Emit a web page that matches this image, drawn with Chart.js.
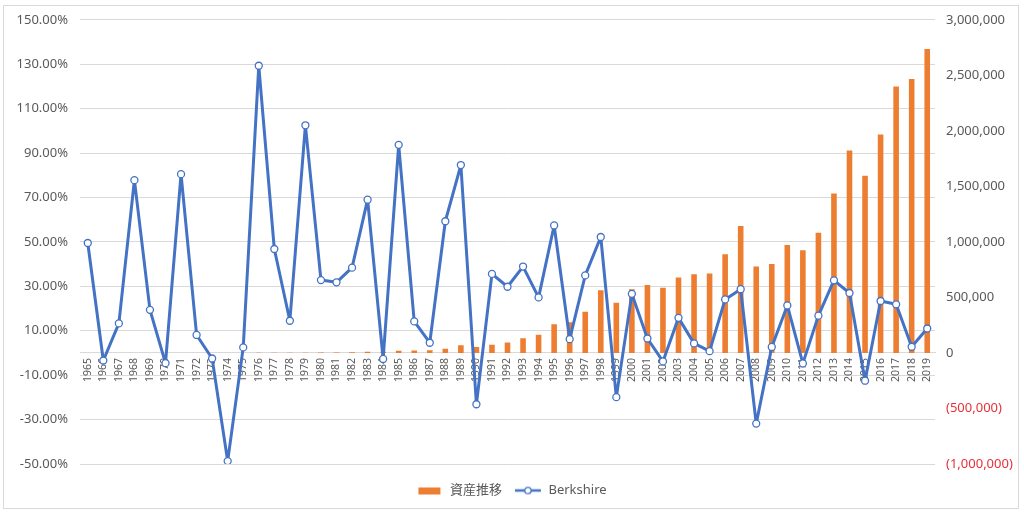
<!DOCTYPE html>
<html>
<head>
<meta charset="utf-8">
<script src="https://cdn.jsdelivr.net/npm/chart.js@4/dist/chart.umd.min.js"></script>
<style>
  html, body { margin: 0; padding: 0; background: #fff; }
  #frame { position: absolute; left: 3px; top: 5px; width: 1014px; height: 502px; border: 1px solid #d9d9d9; }
  #wrap { position: absolute; left: 4px; top: 0px; width: 1014px; height: 508px; }
  canvas { display: block; }
</style>
</head>
<body>
<div id="frame"></div>
<div id="wrap"><canvas id="chart"></canvas></div>
<script>
// years on the category axis
const years = [
  '1965','1966','1967','1968','1969','1970','1971','1972','1973','1974',
  '1975','1976','1977','1978','1979','1980','1981','1982','1983','1984',
  '1985','1986','1987','1988','1989','1990','1991','1992','1993','1994',
  '1995','1996','1997','1998','1999','2000','2001','2002','2003','2004',
  '2005','2006','2007','2008','2009','2010','2011','2012','2013','2014',
  '2015','2016','2017','2018','2019'
];

// Berkshire yearly return, in percent (left axis)
const berkshireReturns = [
  49.5, -3.4, 13.3, 77.8, 19.4, -4.6, 80.5, 8.1, -2.5, -48.7,
  2.5, 129.3, 46.8, 14.5, 102.5, 32.8, 31.8, 38.4, 69.0, -2.7,
  93.7, 14.2, 4.6, 59.3, 84.6, -23.1, 35.6, 29.8, 38.9, 25.0,
  57.4, 6.2, 34.9, 52.2, -19.9, 26.6, 6.5, -3.8, 15.8, 4.3,
  0.8, 24.1, 28.7, -31.8, 2.7, 21.4, -4.7, 16.8, 32.7, 27.0,
  -12.5, 23.4, 21.9, 2.8, 11.0
];

// 資産推移 (right axis)
const assetValues = [
  150, 144, 164, 291, 347, 331, 598, 647, 630, 323,
  332, 760, 1116, 1278, 2587, 3436, 4529, 6268, 10592, 10306,
  19963, 22798, 23846, 37987, 70124, 53926, 73123, 94914, 131835, 164794,
  259386, 275468, 371606, 565584, 453033, 573540, 610820, 587609, 680451, 709711,
  715389, 887798, 1142596, 779250, 800290, 971552, 925889, 1081438, 1435068, 1822536,
  1594719, 1967883, 2398849, 2466017, 2737279
];

const leftTicks = [-50, -30, -10, 10, 30, 50, 70, 90, 110, 130, 150];
const rightTicks = [-1000000, -500000, 0, 500000, 1000000, 1500000, 2000000, 2500000, 3000000];

const ORANGE = '#ED7D31';
const BLUE = '#4472C4';
const GRAY_TEXT = '#595959';
const GRID = '#d9d9d9';
const FONT = '"Noto Sans", "Noto Sans CJK JP", sans-serif';

// small pictures for the legend entries
function legendSwatch(draw) {
  const c = document.createElement('canvas');
  c.width = 28;
  c.height = 10;
  draw(c.getContext('2d'));
  return c;
}
const barSwatch = legendSwatch(g => {
  g.fillStyle = ORANGE;
  g.fillRect(3, 2, 22, 7);
});
const lineSwatch = legendSwatch(g => {
  g.strokeStyle = BLUE;
  g.lineWidth = 2.5;
  g.beginPath();
  g.moveTo(1, 5);
  g.lineTo(27, 5);
  g.stroke();
  g.fillStyle = '#fff';
  g.lineWidth = 1.3;
  g.beginPath();
  g.arc(14, 5, 3.2, 0, Math.PI * 2);
  g.fill();
  g.stroke();
});

const ctx = document.getElementById('chart').getContext('2d');
new Chart(ctx, {
  data: {
    labels: years,
    datasets: [
      {
        type: 'bar',
        label: '資産推移',
        data: assetValues,
        yAxisID: 'y1',
        backgroundColor: ORANGE,
        borderWidth: 0,
        categoryPercentage: 1,
        barPercentage: 0.36,
        order: 1
      },
      {
        type: 'line',
        label: 'Berkshire',
        data: berkshireReturns,
        yAxisID: 'y',
        borderColor: BLUE,
        borderWidth: 3,
        borderJoinStyle: 'round',
        tension: 0,
        pointRadius: 3.5,
        pointBackgroundColor: '#fff',
        pointBorderColor: BLUE,
        pointBorderWidth: 1.3,
        order: 0
      }
    ]
  },
  options: {
    responsive: true,
    maintainAspectRatio: false,
    animation: false,
    layout: { padding: { top: 0, bottom: 1, left: 0, right: 0 } },
    scales: {
      x: {
        type: 'category',
        position: { y: 0 },
        offset: true,
        grid: { display: false, drawTicks: false },
        border: { display: true, color: GRID, width: 1 },
        ticks: {
          autoSkip: false,
          maxRotation: 90,
          minRotation: 90,
          padding: 5,
          color: GRAY_TEXT,
          font: { family: FONT, size: 10.5 }
        }
      },
      y: {
        position: 'left',
        min: -50,
        max: 150,
        afterBuildTicks: axis => { axis.ticks = leftTicks.map(v => ({ value: v })); },
        afterFit: axis => { axis.width = 76; },
        grid: { color: GRID, lineWidth: 1, drawTicks: false },
        border: { display: false },
        ticks: {
          padding: 12,
          color: GRAY_TEXT,
          font: { family: FONT, size: 13 },
          callback: v => v.toFixed(2) + '%'
        }
      },
      y1: {
        position: 'right',
        min: -1000000,
        max: 3000000,
        afterBuildTicks: axis => { axis.ticks = rightTicks.map(v => ({ value: v })); },
        afterFit: axis => { axis.width = 83; },
        grid: { display: false, drawTicks: false },
        border: { display: false },
        ticks: {
          padding: 11,
          color: c => (c.tick && c.tick.value < 0 ? '#E8303A' : GRAY_TEXT),
          font: { family: FONT, size: 13 },
          callback: v => {
            const s = Math.abs(v).toLocaleString('en-US');
            return v < 0 ? '(' + s + ')' : s;
          }
        }
      }
    },
    plugins: {
      tooltip: { enabled: false },
      legend: {
        position: 'bottom',
        title: { display: true, text: '', padding: 0, font: { size: 8, lineHeight: 1 } },
        labels: {
          usePointStyle: true,
          pointStyleWidth: 28,
          padding: 12,
          color: GRAY_TEXT,
          font: { family: FONT, size: 13 },
          sort: (a, b) => a.datasetIndex - b.datasetIndex,
          generateLabels: chart => {
            const items = Chart.defaults.plugins.legend.labels.generateLabels(chart);
            items.forEach(item => {
              item.pointStyle = item.datasetIndex === 0 ? barSwatch : lineSwatch;
            });
            return items;
          }
        }
      }
    }
  }
});
</script>
</body>
</html>
